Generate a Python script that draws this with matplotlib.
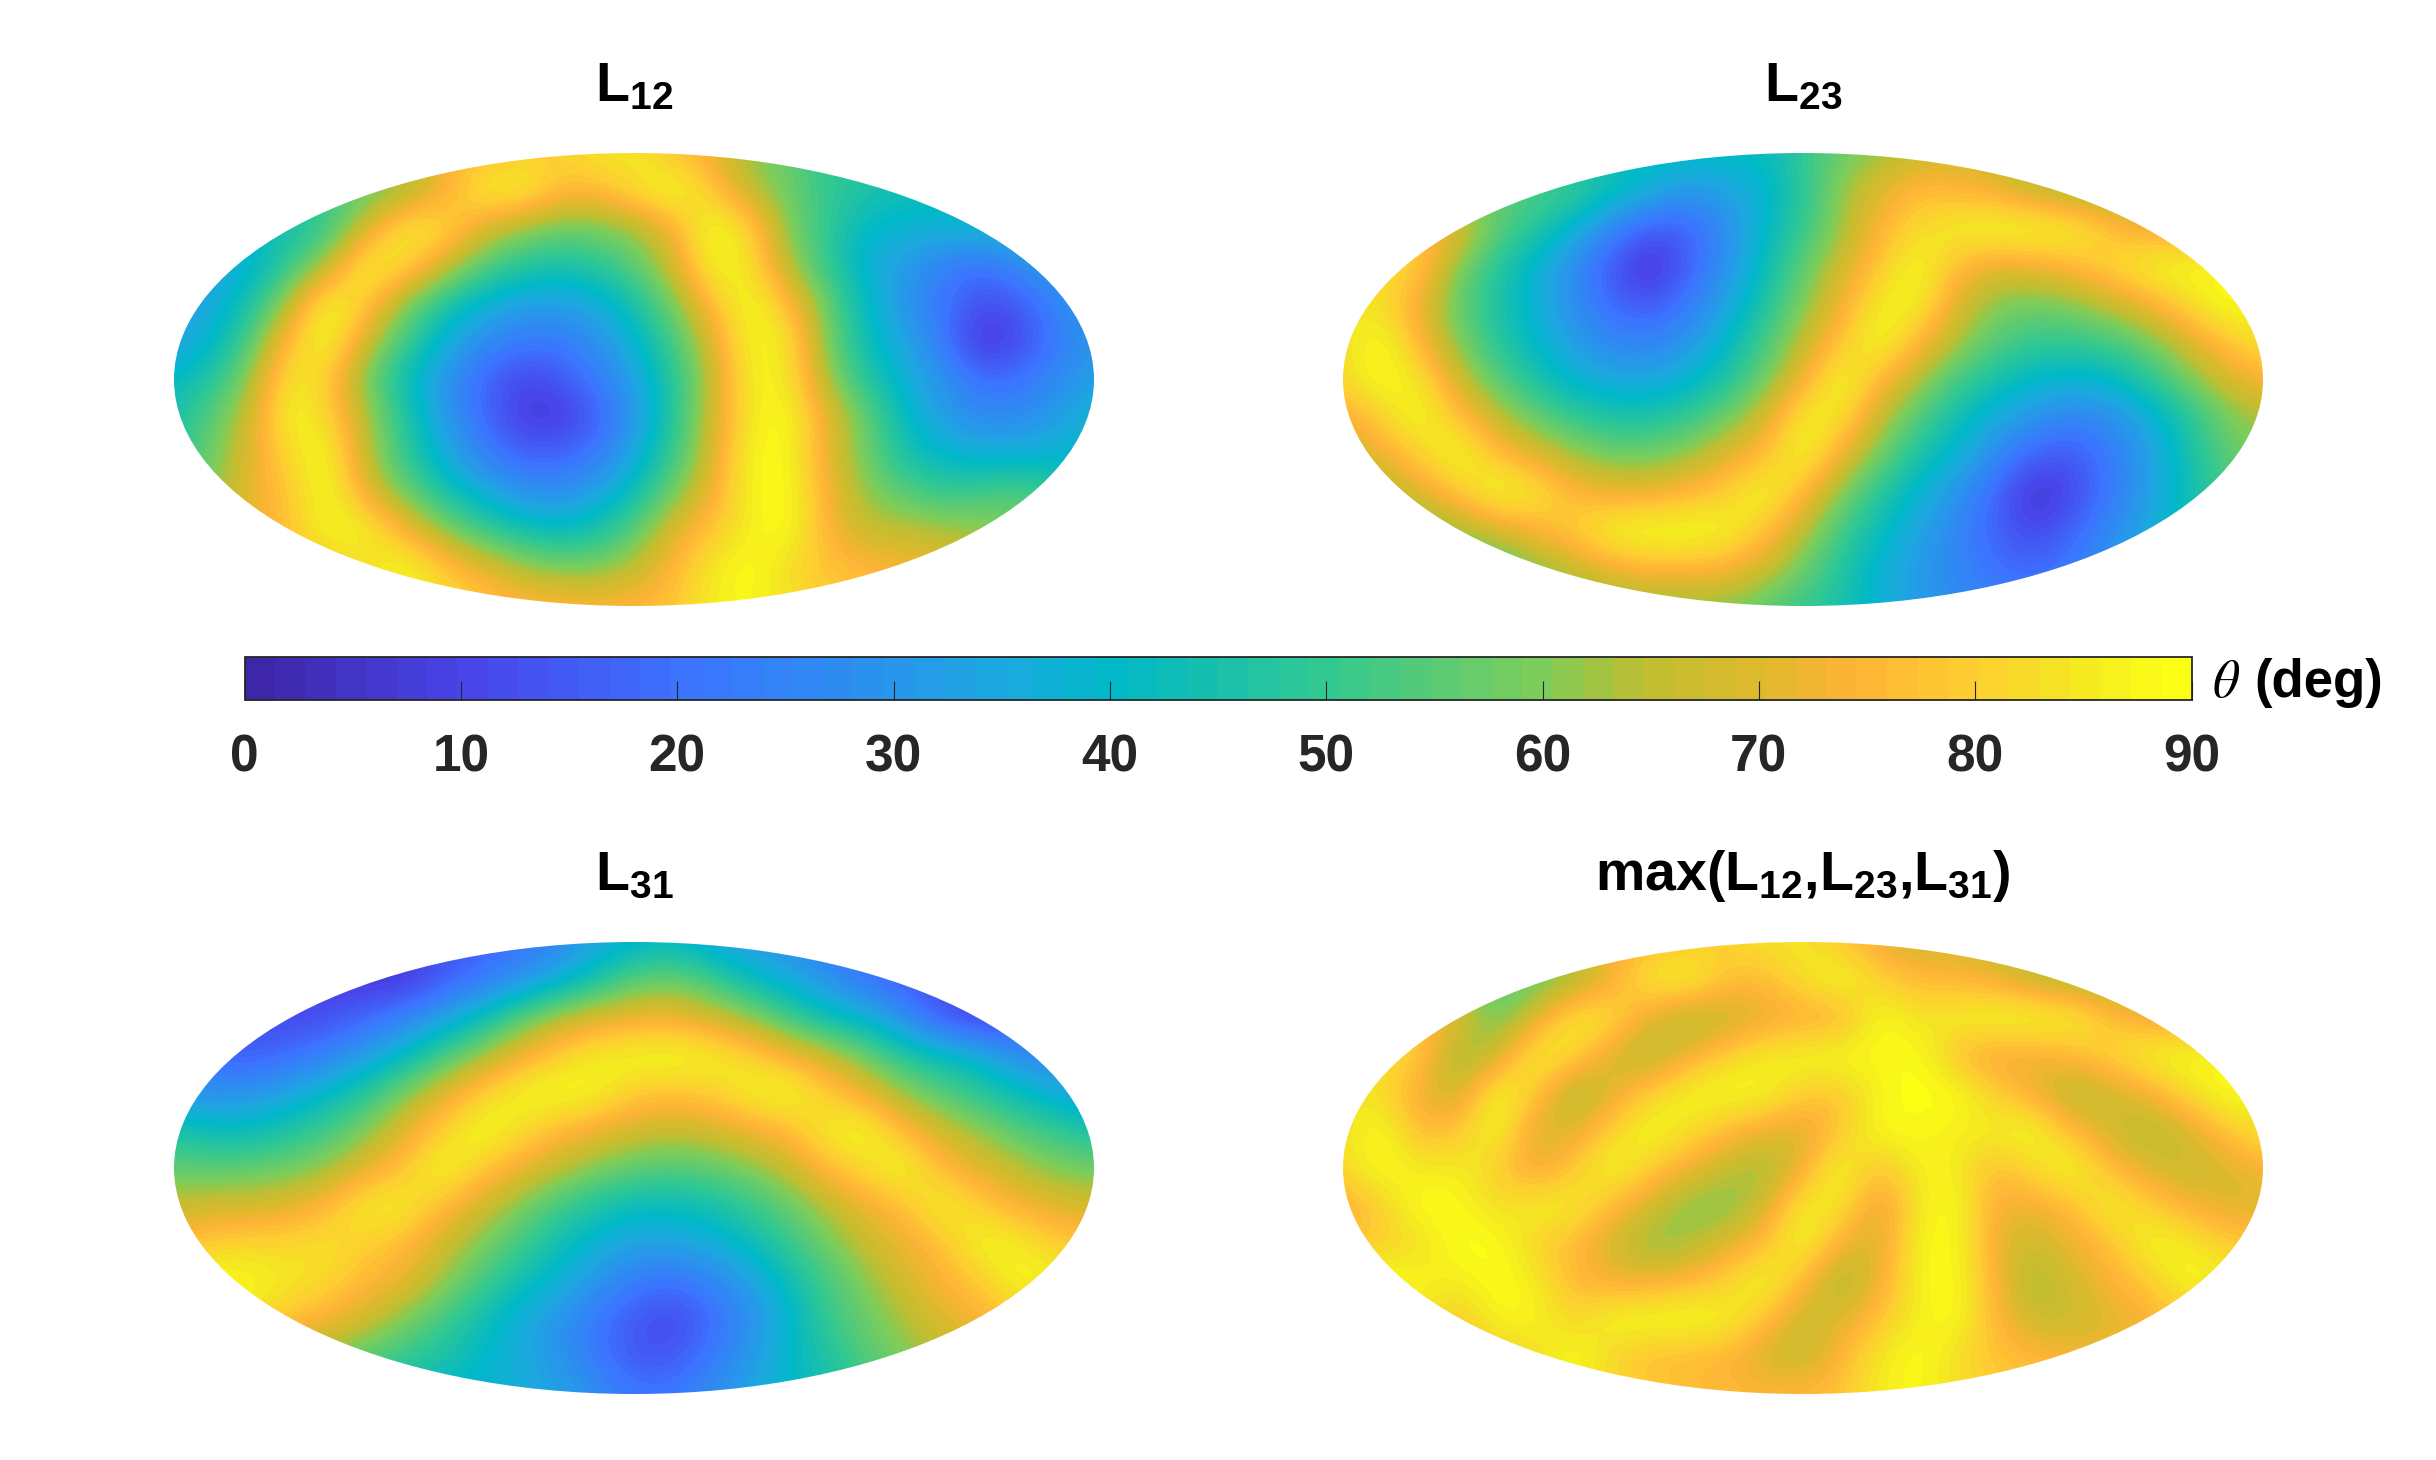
import numpy as np
import matplotlib
matplotlib.use('Agg')
import matplotlib.pyplot as plt
from matplotlib.colors import LinearSegmentedColormap, Normalize
from matplotlib.cm import ScalarMappable
from matplotlib.patches import Ellipse

plt.rcParams['font.family'] = ['Liberation Sans', 'DejaVu Sans']
plt.rcParams['mathtext.fontset'] = 'custom'
plt.rcParams['mathtext.bf'] = 'Liberation Sans:bold'
plt.rcParams['mathtext.rm'] = 'Liberation Sans:bold'

# theta (deg), 13 rows x 25 columns across each map box
L12 = [
    [55, 55, 55, 55, 58, 62, 68, 72, 76, 78, 80, 84, 84, 78, 72, 62, 56, 50, 46, 44, 44, 44, 44, 44, 44],
    [45, 45, 45, 48, 52, 56, 60, 72, 86, 89, 78, 76, 84, 90, 80, 65, 58, 50, 47, 44, 42, 42, 42, 42, 42],
    [36, 38, 40, 44, 50, 68, 87, 85, 70, 62, 57, 58, 62, 72, 90, 83, 60, 50, 40, 38, 38, 40, 40, 40, 40],
    [30, 32, 38, 50, 65, 89, 83, 68, 55, 48, 45, 48, 55, 67, 88, 85, 65, 50, 38, 32, 24, 19, 26, 32, 36],
    [30, 36, 45, 65, 90, 80, 60, 47, 38, 33, 32, 35, 45, 58, 76, 90, 78, 58, 42, 30, 22, 12, 14, 25, 32],
    [33, 38, 55, 78, 90, 68, 52, 38, 28, 22, 22, 28, 38, 52, 68, 88, 86, 60, 43, 35, 24, 5, 10, 22, 30],
    [40, 48, 62, 86, 80, 58, 43, 30, 18, 10, 13, 22, 33, 47, 65, 87, 86, 64, 48, 38, 30, 20, 20, 27, 33],
    [45, 55, 68, 89, 82, 65, 48, 32, 20, 8, 6, 15, 30, 47, 67, 85, 90, 72, 58, 42, 32, 27, 27, 32, 38],
    [48, 58, 70, 82, 90, 65, 50, 37, 25, 17, 17, 22, 35, 50, 68, 88, 89, 72, 58, 46, 40, 37, 37, 38, 40],
    [52, 60, 72, 78, 90, 72, 58, 46, 37, 30, 28, 33, 43, 58, 72, 87, 90, 74, 62, 55, 50, 52, 55, 50, 46],
    [62, 66, 70, 78, 88, 88, 75, 62, 52, 45, 41, 45, 55, 70, 78, 86, 90, 75, 66, 66, 64, 62, 60, 56, 52],
    [70, 72, 74, 76, 78, 82, 90, 80, 72, 65, 60, 60, 65, 75, 85, 90, 82, 78, 76, 74, 72, 70, 66, 62, 58],
    [76, 76, 76, 76, 78, 82, 86, 84, 80, 76, 76, 75, 76, 78, 86, 88, 84, 80, 78, 76, 74, 72, 70, 66, 62],
]
L23 = [
    [50, 50, 50, 50, 48, 46, 44, 42, 42, 42, 42, 41, 50, 57, 62, 66, 68, 66, 62, 60, 58, 56, 56, 56, 56],
    [60, 60, 60, 58, 56, 54, 52, 44, 38, 30, 33, 38, 48, 62, 70, 77, 75, 72, 65, 62, 60, 60, 60, 60, 60],
    [80, 80, 78, 72, 56, 48, 38, 26, 15, 16, 28, 40, 50, 62, 75, 82, 87, 90, 90, 88, 78, 72, 70, 70, 70],
    [84, 84, 80, 60, 48, 38, 28, 14, 3, 16, 29, 42, 56, 68, 78, 90, 76, 70, 72, 76, 82, 88, 90, 88, 86],
    [84, 83, 72, 56, 46, 38, 28, 18, 14, 22, 34, 46, 60, 72, 87, 87, 70, 60, 58, 60, 66, 73, 82, 90, 88],
    [82, 90, 75, 60, 48, 40, 32, 26, 25, 30, 40, 52, 66, 78, 90, 76, 64, 55, 50, 50, 52, 58, 68, 78, 84],
    [82, 90, 85, 68, 55, 46, 38, 35, 34, 38, 46, 58, 72, 90, 76, 64, 52, 45, 40, 38, 40, 48, 58, 68, 74],
    [72, 80, 90, 78, 66, 57, 50, 46, 46, 50, 58, 68, 87, 85, 66, 54, 44, 36, 30, 25, 27, 36, 46, 58, 64],
    [65, 72, 80, 90, 78, 70, 63, 58, 58, 62, 70, 76, 90, 72, 58, 46, 38, 28, 16, 14, 22, 32, 44, 55, 60],
    [58, 62, 70, 78, 90, 86, 76, 72, 72, 76, 80, 90, 76, 60, 48, 38, 30, 18, 4, 10, 22, 32, 42, 52, 56],
    [52, 55, 58, 62, 68, 74, 80, 89, 90, 90, 88, 78, 65, 52, 42, 34, 26, 17, 10, 17, 27, 35, 45, 50, 52],
    [46, 46, 48, 50, 52, 60, 66, 72, 76, 76, 74, 68, 58, 47, 38, 31, 26, 20, 18, 22, 30, 38, 42, 44, 46],
    [44, 44, 46, 48, 50, 54, 58, 60, 60, 60, 60, 55, 50, 45, 38, 32, 28, 25, 24, 26, 30, 34, 38, 40, 42],
]
L31 = [
    [20, 20, 20, 18, 14, 10, 8, 12, 16, 20, 26, 33, 38, 40, 35, 30, 28, 22, 18, 14, 12, 10, 10, 12, 14],
    [16, 14, 12, 10, 8, 6, 6, 15, 22, 28, 35, 45, 55, 58, 52, 42, 36, 30, 22, 16, 12, 8, 8, 10, 14],
    [16, 14, 12, 10, 12, 18, 25, 33, 42, 55, 65, 70, 72, 72, 68, 62, 52, 42, 38, 28, 15, 8, 10, 14, 18],
    [22, 18, 15, 20, 25, 32, 40, 52, 62, 72, 80, 86, 88, 90, 87, 82, 74, 68, 58, 48, 42, 38, 28, 26, 24],
    [30, 28, 30, 34, 40, 48, 60, 70, 80, 88, 90, 88, 80, 78, 80, 87, 90, 80, 72, 62, 55, 48, 42, 36, 32],
    [46, 42, 42, 46, 52, 60, 70, 80, 90, 84, 76, 72, 68, 66, 68, 72, 76, 86, 90, 76, 68, 62, 55, 50, 45],
    [56, 55, 56, 58, 62, 70, 78, 90, 80, 72, 66, 60, 56, 54, 56, 60, 66, 76, 82, 90, 76, 70, 65, 60, 58],
    [66, 68, 68, 70, 76, 87, 87, 76, 68, 60, 52, 46, 42, 42, 44, 50, 56, 64, 72, 76, 88, 80, 74, 70, 68],
    [76, 80, 82, 82, 84, 80, 76, 68, 60, 52, 44, 38, 33, 34, 36, 42, 50, 58, 66, 72, 76, 89, 86, 80, 78],
    [88, 90, 88, 85, 82, 76, 72, 62, 53, 44, 38, 30, 23, 20, 25, 32, 42, 52, 60, 68, 74, 78, 89, 87, 84],
    [86, 86, 84, 78, 74, 68, 60, 52, 44, 36, 30, 22, 14, 10, 18, 28, 38, 50, 57, 63, 70, 74, 78, 80, 82],
    [72, 70, 68, 64, 60, 55, 50, 46, 40, 36, 30, 22, 14, 14, 22, 30, 40, 46, 54, 60, 64, 66, 70, 72, 74],
    [60, 58, 56, 54, 50, 46, 42, 40, 38, 36, 34, 28, 22, 22, 28, 34, 40, 44, 50, 54, 58, 60, 64, 66, 68],
]
titles = [r'$\mathbf{L_{12}}$', r'$\mathbf{L_{23}}$', r'$\mathbf{L_{31}}$',
          r'$\mathbf{max(L_{12}{,}L_{23}{,}L_{31})}$']
cbar_ticks = [0, 10, 20, 30, 40, 50, 60, 70, 80, 90]
cmap_stops = [0, 10, 20, 30, 35, 40, 50, 60, 65, 70, 75, 80, 85, 90]
cmap_colors = ['#3e26a8', '#4846eb', '#3c73ff', '#2896eb', '#1baade', '#00b8c8',
               '#32c891', '#7dcd5a', '#bebe32', '#dcb92d', '#ffb437', '#fdcd32',
               '#f5e623', '#faff14']

W, H = 2436, 1460
fig = plt.figure(figsize=(W/100, H/100), dpi=100)
cmap = LinearSegmentedColormap.from_list(
    'parula64', [(s/90, c) for s, c in zip(cmap_stops, cmap_colors)], N=64)
norm = Normalize(0, 90)


def box(x0, y0, x1, y1):
    return [x0/W, 1 - y1/H, (x1 - x0)/W, (y1 - y0)/H]


L_max = np.maximum(np.maximum(L12, L23), L31)
panels = [(L12, (174, 153, 1094, 606)), (L23, (1343, 153, 2263, 606)),
          (L31, (174, 942, 1094, 1394)), (L_max, (1343, 942, 2263, 1394))]

for (vals, px), title in zip(panels, titles):
    ax = fig.add_axes(box(*px))
    vals = np.array(vals, dtype=float)
    im = ax.imshow(vals, cmap=cmap, norm=norm, aspect='auto', interpolation='bicubic',
                   extent=(-1 - 1/24, 1 + 1/24, -1 - 1/12, 1 + 1/12))
    ax.set_xlim(-1, 1)
    ax.set_ylim(-1, 1)
    im.set_clip_path(Ellipse((0, 0), 2, 2, transform=ax.transData))
    ax.axis('off')
    fig.text((px[0] + px[2])/2/W, 1 - (px[1] - 66)/H, title, fontsize=40,
             ha='center', va='center', math_fontfamily='custom')

cax = fig.add_axes(box(244.5, 657, 2191.5, 700))
cb = fig.colorbar(ScalarMappable(norm=norm, cmap=cmap), cax=cax, orientation='horizontal')
cb.set_ticks(cbar_ticks)
cax.tick_params(direction='in', length=14, width=0.8, labelsize=37, pad=24,
                labelcolor='#262626', color='#262626')
for t in cax.get_xticklabels():
    t.set_fontweight('bold')
cb.outline.set_linewidth(1.3)
cb.outline.set_edgecolor('#262626')
fig.text(2212/W, 1 - 683/H, r'$\theta$', fontsize=38, va='center', ha='left',
         math_fontfamily='stix')
fig.text(2254/W, 1 - 683/H, '(deg)', fontsize=38, va='center', ha='left', fontweight='bold')

fig.savefig('out.png', dpi=100)
